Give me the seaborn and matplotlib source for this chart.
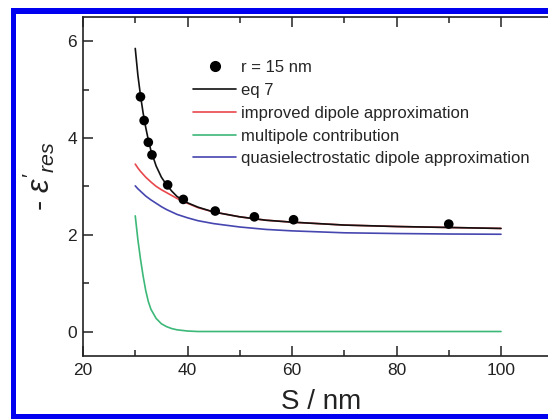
import matplotlib
matplotlib.use("Agg")
import matplotlib.pyplot as plt
from matplotlib.patches import Rectangle
from matplotlib.lines import Line2D
from matplotlib.ticker import MultipleLocator
import seaborn as sns
import pandas as pd

# Measured resonance values
s_meas = [31.0, 31.7, 32.5, 33.2, 36.2, 39.2, 45.3, 52.8, 60.3, 90.0]
eps_meas = [4.85, 4.36, 3.91, 3.65, 3.03, 2.73, 2.49, 2.37, 2.31, 2.22]

# Model curves
s_curve = [30, 30.5, 31, 31.5, 32, 32.5, 33, 34, 35, 36, 37, 38, 40, 42, 45,
           50, 55, 60, 70, 80, 90, 100]
eq7 = [5.85, 5.30, 4.88, 4.52, 4.22, 3.96, 3.74, 3.42, 3.19, 3.03, 2.90, 2.79,
       2.66, 2.57, 2.47, 2.37, 2.30, 2.26, 2.20, 2.17, 2.15, 2.13]
improved = [3.46, 3.38, 3.31, 3.25, 3.19, 3.14, 3.09, 3.00, 2.93, 2.87, 2.81,
            2.75, 2.65, 2.56, 2.47, 2.37, 2.30, 2.26, 2.20, 2.17, 2.15, 2.13]
multipole = [2.39, 1.90, 1.50, 1.15, 0.85, 0.62, 0.46, 0.27, 0.16, 0.10, 0.06,
             0.035, 0.01, 0.0, 0.0, 0.0, 0.0, 0.0, 0.0, 0.0, 0.0, 0.0]
quasi = [3.01, 2.95, 2.90, 2.85, 2.80, 2.76, 2.72, 2.65, 2.58, 2.52, 2.47, 2.42,
         2.35, 2.29, 2.23, 2.16, 2.11, 2.08, 2.04, 2.025, 2.015, 2.01]

labels = ["r = 15 nm", "eq 7", "improved dipole approximation",
          "multipole contribution", "quasielectrostatic dipole approximation"]
colors = ["#111111", "#e8474c", "#3cb878", "#4646b0"]

sns.set_style("ticks")
plt.rcParams["font.family"] = ["Liberation Sans", "DejaVu Sans"]
plt.rcParams["mathtext.fontset"] = "custom"
plt.rcParams["mathtext.rm"] = "Liberation Sans"
plt.rcParams["mathtext.it"] = "Liberation Sans:italic"

W, H = 548, 419
PX = 5.225  # pixels per nm along x
fig = plt.figure(figsize=(W / 100, H / 100), dpi=100)
ax = fig.add_axes([83 / W, 1 - 355.7 / H, 91 * PX / W, 338.7 / H])

curves = pd.DataFrame({"S": s_curve, "eq7": eq7, "improved": improved,
                       "multipole": multipole, "quasi": quasi})
for col, c in zip(["eq7", "improved", "multipole", "quasi"], colors):
    sns.lineplot(data=curves, x="S", y=col, color=c, lw=1.2, ax=ax,
                 sort=False, estimator=None, zorder=3 if col == "eq7" else 2)

sns.scatterplot(x=s_meas, y=eps_meas, color="black", s=48, edgecolor="none",
                ax=ax, zorder=4)

ax.set_xlim(20, 111)
ax.set_ylim(-0.5, 6.5)
ax.xaxis.set_major_locator(MultipleLocator(20))
ax.xaxis.set_minor_locator(MultipleLocator(10))
ax.yaxis.set_major_locator(MultipleLocator(2))
ax.yaxis.set_minor_locator(MultipleLocator(1))
ax.tick_params(which="both", direction="in", top=True, right=True,
               color="#222222", width=1.1, labelcolor="#222222", labelsize=12.5)
ax.tick_params(which="major", length=7)
ax.tick_params(which="minor", length=4)
ax.tick_params(axis="x", pad=5.5)
ax.tick_params(axis="y", pad=4.5)
for sp in ax.spines.values():
    sp.set_color("#222222")
    sp.set_linewidth(1.2)

ax.set_xlabel("S / nm", fontsize=20, labelpad=8, color="#222222")
ax.set_ylabel(r"- $\varepsilon^{\prime}{}_{res}$", fontsize=22,
              color="#222222")
ax.yaxis.set_label_coords(-0.055, 0.53)

handles = [Line2D([], [], ls="none", marker="o", ms=7, color="black")]
handles += [Line2D([], [], color=c, lw=1.2) for c in colors]
ax.legend(handles, labels, loc="upper left", frameon=False, fontsize=12,
          handlelength=2.6, handletextpad=0.3, labelspacing=0.47,
          borderpad=0, borderaxespad=0,
          bbox_to_anchor=(193 / W, 1 - 60 / H), bbox_transform=fig.transFigure)

# Blue frame around the figure
blue = "#0000f0"
for x0, y0, w, h in [(11, 8, 5, 411), (11, 8, 537, 6), (11, 414, 537, 5)]:
    fig.add_artist(Rectangle((x0 / W, 1 - (y0 + h) / H), w / W, h / H,
                             transform=fig.transFigure, color=blue, lw=0,
                             zorder=10))

fig.savefig("out.png", dpi=100)
